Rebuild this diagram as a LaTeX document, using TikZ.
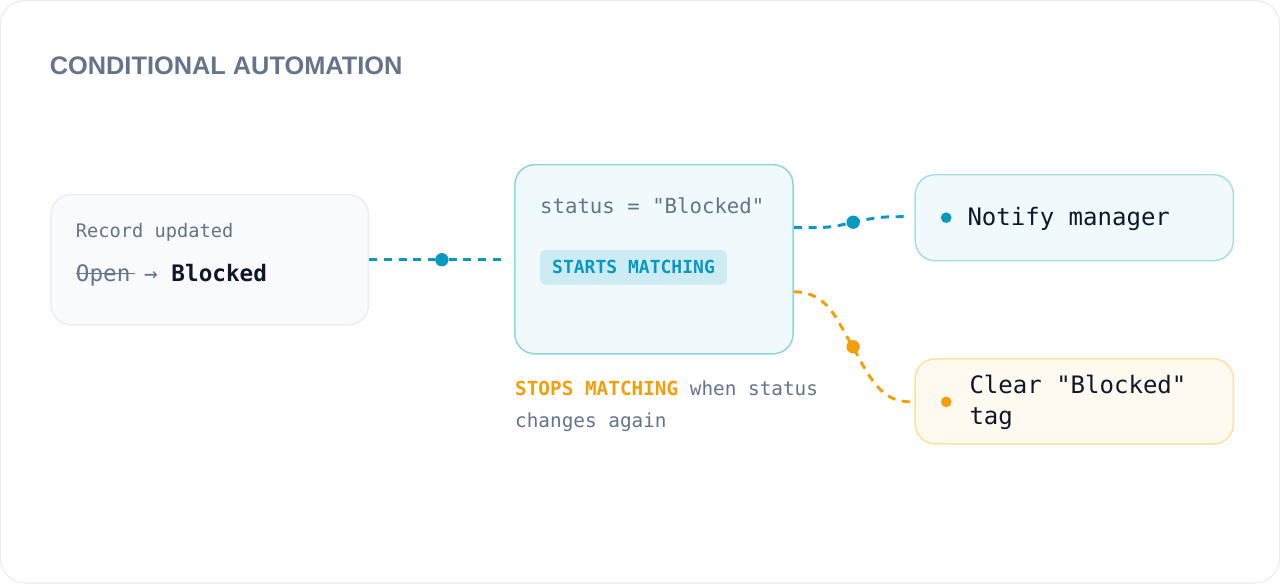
\documentclass[tikz,border=0pt]{standalone}
\usepackage{fontspec}
\setmainfont{DejaVu Sans Mono}[Ligatures=TeXOff]
\newfontfamily\titlefont{Liberation Sans}
\usetikzlibrary{positioning}
\definecolor{slate}{HTML}{64748B}
\definecolor{ink}{HTML}{0F172A}
\definecolor{cyanline}{HTML}{0899C2}
\definecolor{amber}{HTML}{F59E0B}
\tikzset{
  card/.style={draw, rounded corners=15pt, line width=1.1pt, inner sep=0pt},
  mono/.style={anchor=west, inner sep=0pt, font=\fontsize{14}{16}\selectfont, text=slate},
  link/.style={line width=2.2pt, dash pattern=on 6pt off 5pt},
  knot/.style={circle, fill, inner sep=0pt, minimum size=10pt},
}
\begin{document}
\begin{tikzpicture}[x=0.75pt,y=-0.75pt]
\draw[rounded corners=18pt, draw=black!8, fill=white, line width=0.8pt] (1,1) rectangle (1279,583);

\node[anchor=west, inner sep=0pt, text=slate, font=\titlefont\bfseries\fontsize{19}{21}\selectfont] (title) at (50,66) {CONDITIONAL AUTOMATION};

% cards
\node[card, draw=black!10!blue!8, fill={rgb,255:red,248;green,250;blue,252}, minimum width=238pt, minimum height=97.5pt] (record) at (210,260) {};
\node[card, draw={rgb,255:red,143;green,211;blue,226}, fill={rgb,255:red,240;green,249;blue,251}, minimum width=208.5pt, minimum height=141.75pt] (rule) at (654,259.5) {};
\node[card, draw={rgb,255:red,165;green,221;blue,234}, fill={rgb,255:red,240;green,249;blue,251}, minimum width=238.5pt, minimum height=64.5pt] (notify) at (1074,218) {};
\node[card, draw={rgb,255:red,253;green,224;blue,160}, fill={rgb,255:red,255;green,250;blue,240}, minimum width=238.5pt, minimum height=63.75pt] (clear) at (1074,401.5) {};

% texts
\node[mono] (recordtitle) at (76,233) {Record updated};
\node[mono, font=\fontsize{17}{19}\selectfont] (change) at (76,276) {\textcolor{slate}{Open}~\textcolor{slate}{→}~\textcolor{ink}{\bfseries Blocked}};
\draw[slate, line width=0.8pt] ([yshift=2pt]change.west) -- ++(44.5pt,0);
\node[mono, font=\fontsize{15.5}{17}\selectfont] (condition) at (540,206) {status = "Blocked"};
\node[anchor=west, fill={rgb,255:red,205;green,235;blue,242}, rounded corners=4pt, inner xsep=9pt, minimum height=26pt, text=cyanline, font=\bfseries\fontsize{13.5}{15}\selectfont] (starts) at (540,267.5) {STARTS MATCHING};
\node[mono, font=\fontsize{18}{20}\selectfont, text=ink] (notifytext) at (967,219) {Notify manager};
\node[knot, fill=cyanline, minimum size=8pt] (notifydot) at (946,218) {};
\node[mono, font=\fontsize{18}{23}\selectfont, text=ink, align=left] (cleartext) at (969,402.5) {Clear "Blocked"\\tag};
\node[knot, fill=amber, minimum size=8pt] (cleardot) at (946,402) {};
\node[mono, font=\fontsize{14.5}{24}\selectfont, align=left] (stops) at (515,406) {\textcolor{amber}{\bfseries STOPS MATCHING} when status\\changes again};

% connectors
\coordinate (ruleA) at (505,260);
\coordinate (notifyA) at (910,217);
\coordinate (clearA) at (910,402);
\node[knot, fill=cyanline] (dotA) at (442,260) {};
\node[knot, fill=cyanline] (dotB) at (853,222.5) {};
\node[knot, fill=amber] (dotC) at (853,347) {};
\draw[link, cyanline] (record.east) -- (dotA) -- (ruleA);
\draw[link, cyanline] (rule.east |- 0,228) .. controls (830,228) .. (dotB.center) .. controls (880,217) .. (notifyA);
\draw[link, amber] (rule.east |- 0,292) .. controls (830,292) and (838,325) .. (dotC.center) .. controls (872,385) and (885,402) .. (clearA);
\end{tikzpicture}
\end{document}
